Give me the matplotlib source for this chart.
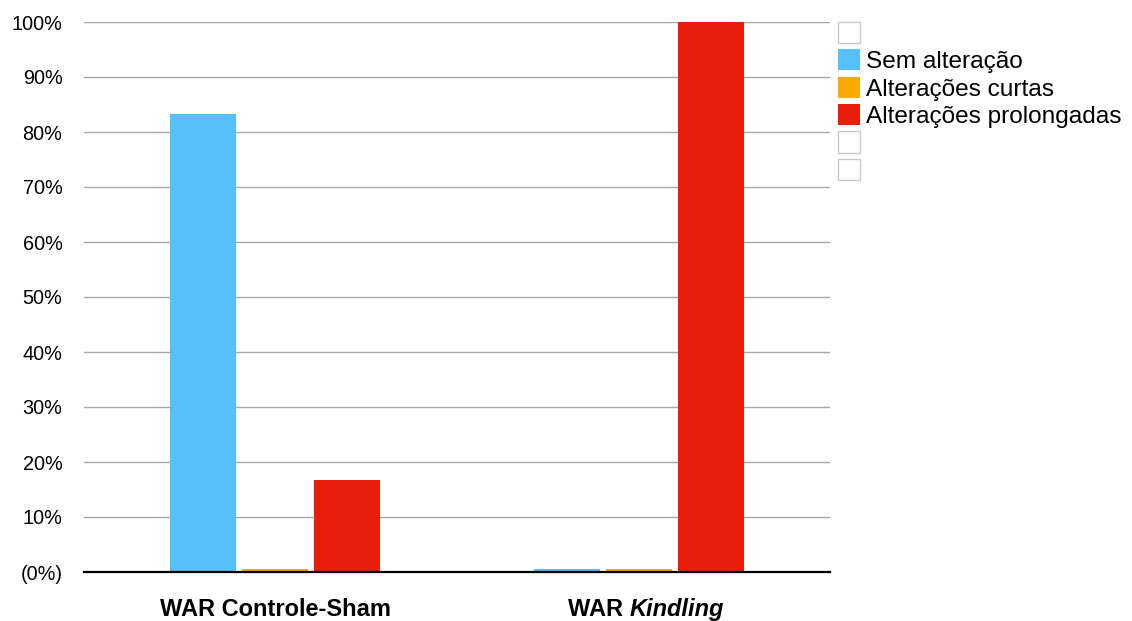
import numpy as np
import matplotlib.pyplot as plt
from matplotlib.patches import Patch

# data (percent)
groups = ["WAR Controle-Sham", "WAR Kindling"]
series = ["Sem alteração", "Alterações curtas", "Alterações prolongadas"]
sem_alteracao = [83.3, 0.5]
alteracoes_curtas = [0.5, 0.5]
alteracoes_prolongadas = [16.7, 100.0]
colors = ["#55C0FA", "#F9A900", "#E81D0A"]
yticks = [0, 10, 20, 30, 40, 50, 60, 70, 80, 90, 100]
ytick_labels = ["(0%)"] + [f"{v}%" for v in yticks[1:]]

plt.rcParams["font.family"] = ["Liberation Sans", "DejaVu Sans"]

fig = plt.figure(figsize=(11.32, 6.21), dpi=100)
ax = fig.add_axes([84 / 1132, 1 - 572 / 621, (830 - 84) / 1132, (572 - 22) / 621])

x = np.arange(len(groups))
width = 0.181
offset = 0.198
values = [sem_alteracao, alteracoes_curtas, alteracoes_prolongadas]
for i, (vals, c) in enumerate(zip(values, colors)):
    ax.bar(x + (i - 1) * offset, vals, width, color=c, edgecolor="none", zorder=3)

ax.set_xlim(-0.525, 1.525)
ax.set_ylim(0, 100)
ax.set_yticks(yticks)
ax.set_yticklabels(ytick_labels, fontsize=14.3)
ax.tick_params(axis="y", length=0, pad=15.5)
ax.tick_params(axis="x", length=0)
ax.set_xticks([])
ax.yaxis.grid(True, color="#A8A8A8", linewidth=1)
ax.set_axisbelow(True)
for s in ["top", "right", "left"]:
    ax.spines[s].set_visible(False)
ax.spines["bottom"].set_linewidth(1.6)
ax.spines["bottom"].set_zorder(4)

# group labels (second one partly italic)
trans = ax.get_xaxis_transform()
ax.text(x[0], -0.068, "WAR Controle-Sham", transform=trans, ha="center", va="center",
        fontsize=17, fontweight="bold")
ax.text(x[1] - 0.025, -0.068, "WAR ", transform=trans, ha="right", va="center",
        fontsize=17, fontweight="bold")
ax.text(x[1] - 0.025, -0.068, "Kindling", transform=trans, ha="left", va="center",
        fontsize=17, fontweight="bold", style="italic")

empty = dict(facecolor="white", edgecolor="#C8C8C8", linewidth=1)
handles = [Patch(**empty, label=" ")]
handles += [Patch(facecolor=c, edgecolor="none", label=s) for c, s in zip(colors, series)]
handles += [Patch(**empty, label=" "), Patch(**empty, label=" ")]
fig.legend(handles=handles, loc="upper left", bbox_to_anchor=(838 / 1132, 1 - 22 / 621),
           frameon=False, fontsize=17.6, borderpad=0, borderaxespad=0,
           handlelength=0.88, handleheight=0.95, handletextpad=0.25, labelspacing=0.14)

fig.savefig("out.png", dpi=100)
